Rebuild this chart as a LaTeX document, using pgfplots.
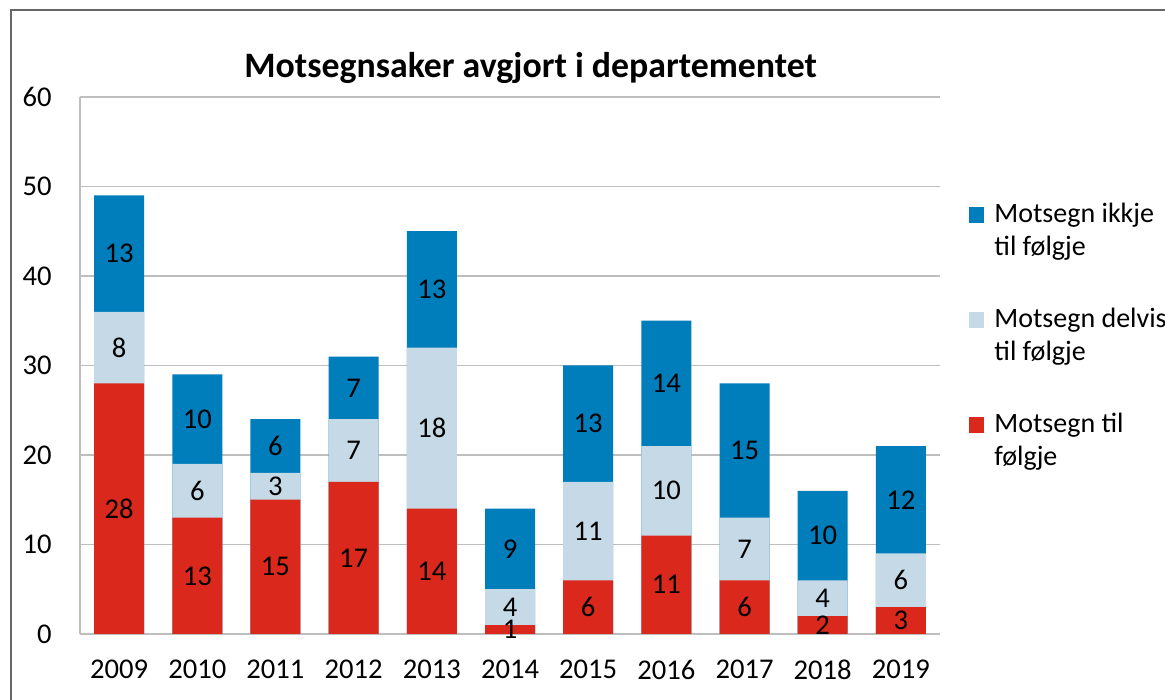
\documentclass[border=0pt]{standalone}
\usepackage{fontspec}
\setmainfont{Carlito}
\usepackage{pgfplots}
\pgfplotsset{compat=1.18}
\usepackage{pgfplotstable}
\definecolor{cblue}{RGB}{0,126,187}
\definecolor{clight}{RGB}{198,217,230}
\definecolor{cred}{RGB}{218,41,28}
\definecolor{cgrid}{RGB}{190,190,190}

% x: 0=2009 ... 10=2019 ; red = Motsegn til folgje, redlight = red + delvis, total = all three
\pgfplotstableread{
x red redlight total
0 28 36 49
1 13 19 29
2 15 18 24
3 17 24 31
4 14 32 45
5 1 5 14
6 6 17 30
7 11 21 35
8 6 13 28
9 2 6 16
10 3 9 21
}\bars

% label positions (segment midpoints) and segment values
\pgfplotstableread{
x y label
0 14 28
0 32 8
0 42.5 13
1 6.5 13
1 16 6
1 24 10
2 7.5 15
2 16.5 3
2 21 6
3 8.5 17
3 20.5 7
3 27.5 7
4 7 14
4 23 18
4 38.5 13
5 0.5 1
5 3 4
5 9.5 9
6 3 6
6 11.5 11
6 23.5 13
7 5.5 11
7 16 10
7 28 14
8 3 6
8 9.5 7
8 20.5 15
9 1 2
9 4 4
9 11 10
10 1.5 3
10 6 6
10 15 12
}\labels

\begin{document}
\begin{tikzpicture}
\useasboundingbox (0,0) rectangle (582.5pt,350pt);
\draw[line width=1pt, color=black!60] (5.5pt,-20pt) -- (5.5pt,345pt) -- (640pt,345pt);
\begin{axis}[
  at={(40pt,33pt)}, anchor=south west,
  scale only axis, width=430pt, height=268.5pt,
  xmin=-0.5, xmax=10.5, ymin=0, ymax=60,
  xtick={0,...,10},
  xticklabels={2009,2010,2011,2012,2013,2014,2015,2016,2017,2018,2019},
  ytick={0,10,...,60},
  major tick length=0pt,
  axis x line*=bottom, axis y line*=left,
  axis line style={draw=cgrid, line width=1pt},
  ymajorgrids, major grid style={draw=cgrid, line width=0.8pt},
  /pgf/number format/assume math mode=true,
  tick label style={font=\fontsize{14.3}{16}\selectfont, text=black, inner sep=0pt},
  yticklabel style={xshift=-14pt},
  xticklabel style={yshift=-13pt},
  title={\textbf{Motsegnsaker avgjort i departementet}},
  title style={font=\fontsize{17.9}{20}\selectfont, at={(0.524,1)}, anchor=base, yshift=3.5pt, inner sep=0pt},
  clip=false,
  legend style={at={(1.0337,0.81)}, anchor=north west, draw=none, fill=none,
    inner sep=0pt, row sep=20.7pt, column sep=3pt,
    font=\fontsize{14}{16.5}\selectfont,
    cells={anchor=base west, align=left, inner sep=0pt}},
  legend image code/.code={\fill[#1] (0pt,16.5pt) rectangle (7.5pt,24.5pt);},
]
\addplot[ybar, bar width=25pt, bar shift=0pt, fill=cblue, draw=none] table[x=x, y=total] {\bars};
\addlegendentry{Motsegn ikkje\\til følgje}
\addplot[ybar, bar width=25pt, bar shift=0pt, fill=clight, draw=none] table[x=x, y=redlight] {\bars};
\addlegendentry{Motsegn delvis\\til følgje}
\addplot[ybar, bar width=25pt, bar shift=0pt, fill=cred, draw=none] table[x=x, y=red] {\bars};
\addlegendentry{Motsegn til\\følgje}
\addplot[draw=none, mark=none, forget plot, nodes near coords, point meta=explicit symbolic,
  nodes near coords align=center,
  every node near coord/.style={font=\fontsize{14.3}{16}\selectfont, text=black, inner sep=0pt}]
  table[x=x, y=y, meta=label] {\labels};
\end{axis}
\end{tikzpicture}
\end{document}
